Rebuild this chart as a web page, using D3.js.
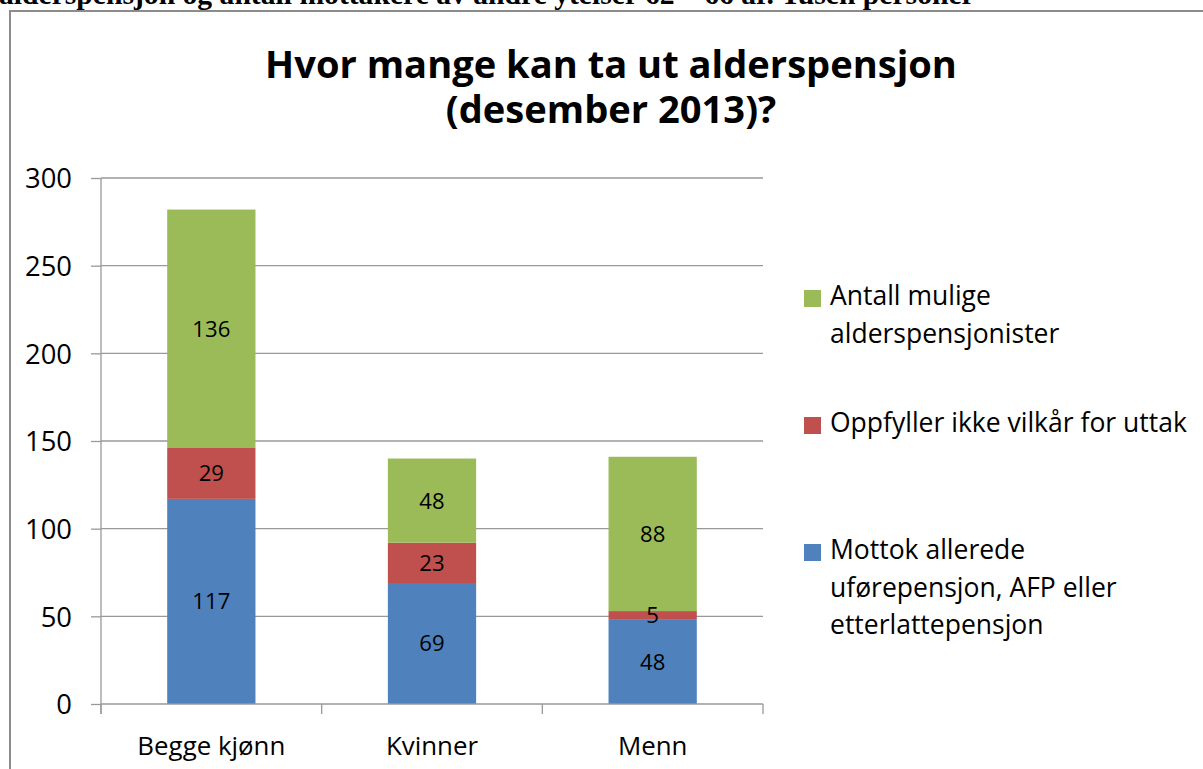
<!DOCTYPE html>
<html>
<head>
<meta charset="utf-8">
<script src="https://cdn.jsdelivr.net/npm/d3@7"></script>
<style>
  html, body { margin: 0; padding: 0; background: #fff; overflow: hidden; }
  svg { display: block; }
</style>
</head>
<body>
<script>
// --- data ---
const categories = ["Begge kjønn", "Kvinner", "Menn"];
const seriesNames = [
  "Mottok allerede uførepensjon, AFP eller etterlattepensjon",
  "Oppfyller ikke vilkår for uttak",
  "Antall mulige alderspensjonister"
];
const mottok = [117, 69, 48];
const oppfyllerIkke = [29, 23, 5];
const mulige = [136, 48, 88];
const yTicks = [0, 50, 100, 150, 200, 250, 300];
const colors = ["#4F81BD", "#C0504D", "#9BBB59"];

const W = 1203, H = 769;
const font = "'Open Sans', 'DejaVu Sans', sans-serif";

const svg = d3.select("body").append("svg").attr("width", W).attr("height", H);

// scale font-size so a text fits a target width
function fit(sel, target) {
  const len = sel.node().getComputedTextLength();
  const fs = parseFloat(sel.attr("font-size"));
  sel.attr("font-size", fs * target / len);
  return fs * target / len;
}

// clipped caption from the document above
const cap = svg.append("text")
  .attr("x", -1).attr("y", 4)
  .attr("font-family", "'Liberation Serif', 'Times New Roman', serif")
  .attr("font-weight", "bold").attr("font-size", 22)
  .text("alderspensjon og antall mottakere av andre ytelser 62 – 66 år. Tusen personer");
fit(cap, 976);

// chart frame
svg.append("rect")
  .attr("x", 10).attr("y", 11).attr("width", W + 20).attr("height", H + 20)
  .attr("fill", "#fff").attr("stroke", "#8c8c8c").attr("stroke-width", 2);

// title (narrowed horizontally to mimic Calibri proportions)
const titleG = svg.append("g");
const t1 = titleG.append("text").attr("x", 0).attr("y", 78)
  .attr("text-anchor", "middle").attr("font-family", font)
  .attr("font-weight", "bold").attr("font-size", 37).attr("fill", "#000")
  .text("Hvor mange kan ta ut alderspensjon");
const sx = 692 / t1.node().getComputedTextLength();
titleG.append("text").attr("x", 0).attr("y", 123)
  .attr("text-anchor", "middle").attr("font-family", font)
  .attr("font-weight", "bold").attr("font-size", 37).attr("fill", "#000")
  .text("(desember 2013)?");
titleG.attr("transform", `translate(611,0) scale(${sx},1)`);

// scales
const x = d3.scaleBand().domain(categories).range([101, 763]).paddingInner(0.6).paddingOuter(0.3);
const y = d3.scaleLinear().domain([0, 300]).range([704, 178]);

const gridColor = "#999";

// gridlines
svg.append("g").selectAll("line").data(yTicks.filter(d => d > 0)).join("line")
  .attr("x1", 101).attr("x2", 763)
  .attr("y1", d => y(d)).attr("y2", d => y(d))
  .attr("stroke", gridColor).attr("stroke-width", 1.3);

// stacked bars
const table = categories.map((c, i) => ({ cat: c, s0: mottok[i], s1: oppfyllerIkke[i], s2: mulige[i] }));
const stack = d3.stack().keys(["s0", "s1", "s2"])(table);

const gBars = svg.append("g");
stack.forEach((layer, li) => {
  gBars.append("g").attr("fill", colors[li]).selectAll("rect").data(layer).join("rect")
    .attr("x", d => x(d.data.cat))
    .attr("width", x.bandwidth())
    .attr("y", d => y(d[1]))
    .attr("height", d => y(d[0]) - y(d[1]));
});

// value labels
const probe = svg.append("text").attr("font-family", font).attr("font-size", 22).text("136");
const vfs = fit(probe, 38);
probe.remove();
stack.forEach(layer => {
  svg.append("g").selectAll("text").data(layer).join("text")
    .attr("x", d => x(d.data.cat) + x.bandwidth() / 2)
    .attr("y", d => (y(d[0]) + y(d[1])) / 2)
    .attr("dy", "0.36em")
    .attr("text-anchor", "middle")
    .attr("font-family", font).attr("font-size", vfs).attr("fill", "#000")
    .text(d => d[1] - d[0]);
});

// y axis
const yAxis = svg.append("g").attr("transform", "translate(101,0)")
  .call(d3.axisLeft(y).tickValues(yTicks).tickSize(10).tickPadding(19));
yAxis.select(".domain").attr("d", "M0,178V714").attr("stroke", gridColor).attr("stroke-width", 1.3);
yAxis.selectAll(".tick line").attr("stroke", gridColor).attr("stroke-width", 1.3);
const yt = yAxis.selectAll(".tick text").attr("fill", "#000").attr("font-family", font).attr("font-size", 26);
const yfs = fit(yAxis.selectAll(".tick text").filter(d => d === 300), 47);
yt.attr("font-size", yfs).attr("dy", "0.36em");

// x axis
const xAxis = svg.append("g").attr("transform", "translate(0,704)")
  .call(d3.axisBottom(x).tickSize(0).tickPadding(0));
xAxis.select(".domain").attr("d", "M101,0H763").attr("stroke", gridColor).attr("stroke-width", 1.3);
const xt = xAxis.selectAll(".tick text").attr("fill", "#000").attr("font-family", font)
  .attr("font-size", 26).attr("dy", 0).attr("y", 51);
const xfs = fit(xAxis.selectAll(".tick text").filter(d => d === "Begge kjønn"), 148);
xt.attr("font-size", xfs);
// category separators
const bounds = d3.range(categories.length + 1).map(i => 101 + i * (662 / categories.length));
xAxis.append("g").selectAll("line").data(bounds).join("line")
  .attr("x1", d => d).attr("x2", d => d).attr("y1", 0).attr("y2", 10)
  .attr("stroke", gridColor).attr("stroke-width", 1.3);

// legend
const legendItems = [
  { c: colors[2], lines: ["Antall mulige", "alderspensjonister"], top: 290 },
  { c: colors[1], lines: ["Oppfyller ikke vilkår for uttak"], top: 417 },
  { c: colors[0], lines: ["Mottok allerede", "uførepensjon, AFP eller", "etterlattepensjon"], top: 544 }
];
const lg = svg.append("g");
const lp = lg.append("text").attr("font-family", font).attr("font-size", 26).text("Oppfyller ikke vilkår for uttak");
const lfs = fit(lp, 357);
lp.remove();
legendItems.forEach(it => {
  lg.append("rect").attr("x", 804).attr("y", it.top).attr("width", 17).attr("height", 17).attr("fill", it.c);
  const tx = lg.append("text").attr("font-family", font).attr("font-size", lfs).attr("fill", "#000");
  it.lines.forEach((l, i) => {
    tx.append("tspan").attr("x", 830).attr("y", it.top + 15 + i * 37.5).text(l);
  });
});
</script>
</body>
</html>
